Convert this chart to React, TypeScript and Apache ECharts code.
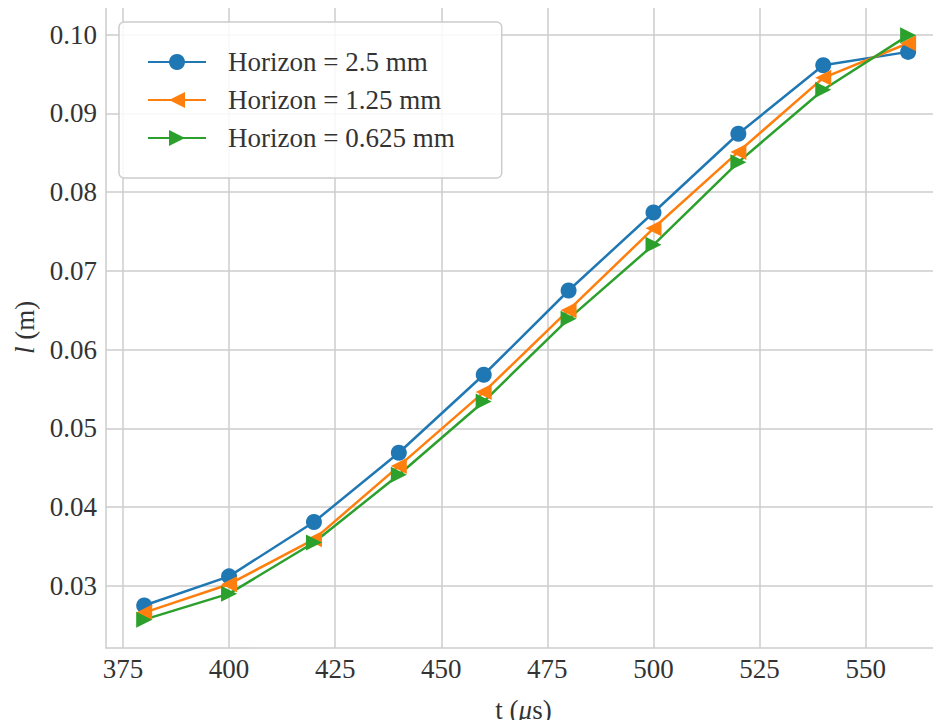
import React, { useEffect, useRef } from "react";
import * as echarts from "echarts";

const times = [380, 400, 420, 440, 460, 480, 500, 520, 540, 560];
const horizon25 = [0.0275, 0.0312, 0.0381, 0.0469, 0.0568, 0.0675, 0.0774, 0.0874, 0.0961, 0.0978];
const horizon125 = [0.0266, 0.0302, 0.0359, 0.0452, 0.0546, 0.0650, 0.0754, 0.0851, 0.0945, 0.0989];
const horizon0625 = [0.0257, 0.0290, 0.0355, 0.0441, 0.0534, 0.0639, 0.0733, 0.0838, 0.0930, 0.0999];
const xTicks = [375, 400, 425, 450, 475, 500, 525, 550];
const yTicks = [0.03, 0.04, 0.05, 0.06, 0.07, 0.08, 0.09, 0.1];
const seriesNames = ["Horizon = 2.5 mm", "Horizon = 1.25 mm", "Horizon = 0.625 mm"];

const FONT = "'Liberation Serif', 'DejaVu Serif', serif";
const TEXT = "#333333";
const GRID = "#cccccc";

export default function App() {
  const ref = useRef<HTMLDivElement>(null);
  useEffect(() => {
    if (!ref.current) return;
    const chart = echarts.init(ref.current, null, { renderer: "svg" });
    const pairs = (ys: number[]) => times.map((t, i) => [t, ys[i]]);
    const mk = (name: string, ys: number[], color: string, symbol: string, rot: number) => ({
      name,
      type: "line",
      data: pairs(ys),
      symbol,
      symbolSize: 16,
      symbolRotate: rot,
      showSymbol: true,
      lineStyle: { width: 2.5, color },
      itemStyle: { color },
      z: 3,
    });
    const nameStyle = {
      fontFamily: FONT,
      fontSize: 27,
      color: TEXT,
      rich: { i: { fontStyle: "italic", fontFamily: FONT, fontSize: 27, color: TEXT } },
    };
    chart.setOption({
      animation: false,
      backgroundColor: "#ffffff",
      textStyle: { fontFamily: FONT },
      grid: {
        left: 106,
        top: 7,
        right: 0,
        bottom: 74,
        show: false,
      },
      xAxis: [
        {
          type: "value",
          min: 371,
          max: 567.75,
          axisLine: { show: true, lineStyle: { color: GRID, width: 1.5 } },
          axisTick: { show: false, customValues: xTicks },
          splitLine: { show: true, lineStyle: { color: GRID, width: 1.5 } },
          axisLabel: {
            customValues: xTicks,
            fontFamily: FONT,
            fontSize: 27,
            color: TEXT,
            margin: 7,
          },
          name: "t ({i|μ}s)",
          nameLocation: "middle",
          nameGap: 48,
          nameTextStyle: nameStyle,
        },
        {
          type: "value",
          position: "top",
          min: 371,
          max: 567.75,
          axisLine: { show: true, lineStyle: { color: GRID, width: 1.5 } },
          axisTick: { show: false },
          splitLine: { show: false },
          axisLabel: { show: false },
        },
      ],
      yAxis: {
        type: "value",
        min: 0.0221,
        max: 0.1035,
        axisLine: { show: true, lineStyle: { color: GRID, width: 1.5 } },
        axisTick: { show: false, customValues: yTicks },
        splitLine: { show: true, lineStyle: { color: GRID, width: 1.5 } },
        axisLabel: {
          customValues: yTicks,
          formatter: (v: number) => v.toFixed(2),
          fontFamily: FONT,
          fontSize: 27,
          color: TEXT,
          margin: 9,
        },
        name: "{i|l} (m)",
        nameLocation: "middle",
        nameRotate: 90,
        nameGap: 67,
        nameTextStyle: nameStyle,
      },
      legend: {
        orient: "vertical",
        left: 119,
        top: 22,
        data: seriesNames,
        padding: [25, 47, 25, 28],
        itemGap: 8,
        itemWidth: 58,
        itemHeight: 20,
        backgroundColor: "rgba(255,255,255,0.85)",
        borderColor: GRID,
        borderWidth: 1.5,
        borderRadius: 5,
        textStyle: {
          fontFamily: FONT,
          fontSize: 27,
          color: TEXT,
          lineHeight: 30,
          padding: [0, 0, 0, 17],
        },
      },
      series: [
        mk(seriesNames[0], horizon25, "#1f77b4", "circle", 0),
        mk(seriesNames[1], horizon125, "#ff7f0e", "triangle", 90),
        mk(seriesNames[2], horizon0625, "#2ca02c", "triangle", -90),
      ],
    });
    return () => chart.dispose();
  }, []);
  return <div ref={ref} style={{ width: 941, height: 728, margin: -8 }} />;
}
